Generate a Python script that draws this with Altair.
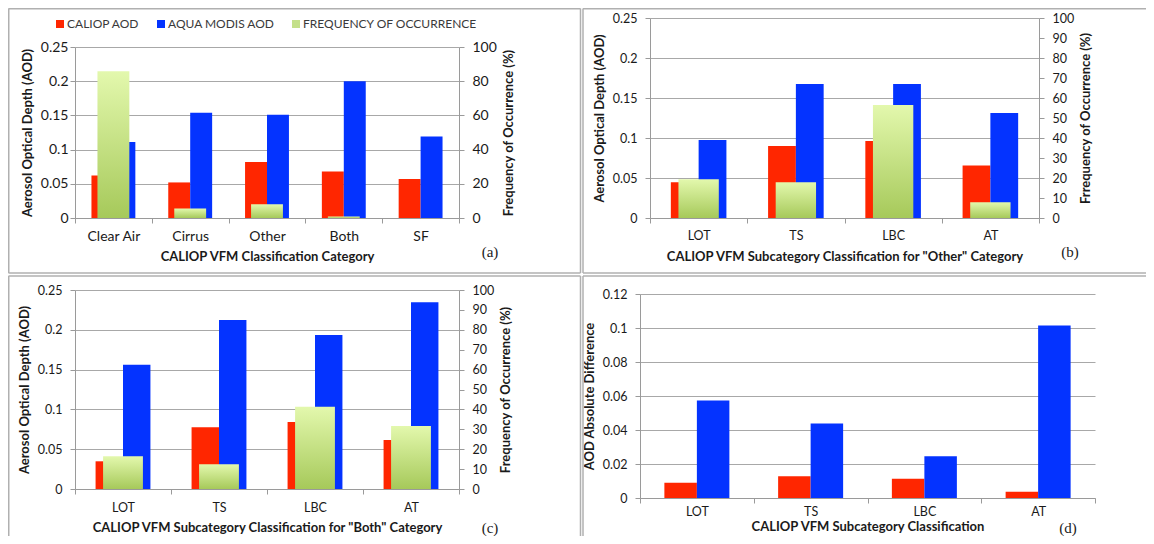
import altair as alt
import pandas as pd

W, H = 1138, 528

series = ["CALIOP AOD", "AQUA MODIS AOD"]
freq_name = "FREQUENCY OF OCCURRENCE"
legend_names = series + [freq_name]
colors = ["#ff2600", "#0433ff", "#c4e08a"]

# Panel (a)
cats_a = ["Clear Air", "Cirrus", "Other", "Both", "SF"]
caliop_a = [0.062, 0.052, 0.082, 0.068, 0.057]
modis_a = [0.111, 0.154, 0.151, 0.200, 0.119]
freq_a = [85.8, 5.5, 8.0, 0.9, 0.0]

# Sub-categories
cats_sub = ["LOT", "TS", "LBC", "AT"]
# Panel (b) "Other"
caliop_b = [0.0447, 0.0899, 0.0962, 0.0656]
modis_b = [0.0974, 0.1676, 0.1676, 0.1313]
freq_b = [19.4, 17.9, 56.5, 7.9]
# Panel (c) "Both"
caliop_c = [0.0348, 0.0776, 0.0843, 0.0617]
modis_c = [0.1560, 0.2122, 0.1934, 0.2345]
freq_c = [16.4, 12.4, 41.3, 31.7]
# Panel (d) absolute difference
caliop_d = [0.0090, 0.0128, 0.0113, 0.0037]
modis_d = [0.0574, 0.0438, 0.0245, 0.1015]

aod_ticks = [0, 0.05, 0.1, 0.15, 0.2, 0.25]
diff_ticks = [0, 0.02, 0.04, 0.06, 0.08, 0.1, 0.12]
freq_ticks_a = [0, 20, 40, 60, 80, 100]
freq_ticks_bc = [0, 10, 20, 30, 40, 50, 60, 70, 80, 90, 100]

FONT = "Lato"
GRID = "#a8a8a8"
AXIS = "#9a9a9a"
TXT = "#1a1a1a"
FRAME = "#b0b0b0"
TFS = 13

color_scale = alt.Scale(domain=legend_names, range=colors)
green_grad = {
    "gradient": "linear",
    "x1": 0, "x2": 0, "y1": 0, "y2": 1,
    "stops": [{"offset": 0, "color": "#e3f8ad"}, {"offset": 1, "color": "#a6c95a"}],
}


def long_df(cats, caliop, modis):
    rows = []
    for c, a, b in zip(cats, caliop, modis):
        rows.append({"cat": c, "series": series[0], "value": a})
        rows.append({"cat": c, "series": series[1], "value": b})
    return pd.DataFrame(rows)


def panel(cats, caliop, modis, freq, xr, yr, ydom, yticks, ytitle, xtitle,
          left_off, bottom_off, right_off=None, rticks=None, rtitle=None,
          lsize=12.5, lpad=8, xlpad=4, xtpad=4, ytpad=6, rtpad=6, legend=None):
    xenc = alt.X(
        "cat:N", sort=cats,
        scale=alt.Scale(range=xr, paddingInner=0, paddingOuter=0),
        axis=alt.Axis(orient="bottom", offset=bottom_off, title=xtitle,
                      tickBand="extent", grid=False, labelAngle=0,
                      labelFontSize=lsize, labelFont=FONT, labelColor=TXT,
                      labelPadding=xlpad, titlePadding=xtpad,
                      titleFont=FONT, titleFontSize=TFS, titleFontWeight="bold",
                      titleColor=TXT, domainColor=AXIS, tickColor=AXIS, tickSize=5),
    )
    bars = alt.Chart(long_df(cats, caliop, modis)).mark_bar().encode(
        x=xenc,
        xOffset=alt.XOffset("series:N", sort=series,
                            scale=alt.Scale(paddingInner=0, paddingOuter=0.75)),
        y=alt.Y("value:Q",
                scale=alt.Scale(domain=ydom, range=yr, nice=False, zero=True),
                axis=alt.Axis(orient="left", offset=left_off, values=yticks,
                              labelExpr="'' + datum.value",
                              grid=True, gridColor=GRID, gridWidth=1,
                              title=ytitle, titlePadding=ytpad, titleFont=FONT,
                              titleFontSize=TFS, titleFontWeight="bold", titleColor=TXT,
                              labelFontSize=lsize, labelFont=FONT, labelColor=TXT,
                              labelPadding=lpad, domainColor=AXIS, tickColor=AXIS,
                              tickSize=5)),
        color=alt.Color("series:N", scale=color_scale, legend=legend),
    )
    layers = [bars]
    if freq is not None:
        fdf = pd.DataFrame({"cat": cats, "freq": freq})
        green = alt.Chart(fdf).mark_bar(color=green_grad, width={"band": 0.415}).encode(
            x=xenc,
            y=alt.Y("freq:Q",
                    scale=alt.Scale(domain=[0, 100], range=yr, nice=False),
                    axis=alt.Axis(orient="right", offset=right_off, values=rticks,
                                  labelExpr="'' + datum.value", grid=False, title=rtitle,
                                  titleAngle=270, titleBaseline="top",
                                  titlePadding=rtpad, titleFont=FONT, titleFontSize=TFS,
                                  titleFontWeight="bold", titleColor=TXT,
                                  labelFontSize=lsize, labelFont=FONT, labelColor=TXT,
                                  labelPadding=8, domainColor=AXIS, tickColor=AXIS,
                                  tickSize=5)),
        )
        layers.append(green)
        return alt.layer(*layers).resolve_scale(y="independent")
    return alt.layer(*layers)


legend_a = alt.Legend(orient="none", legendX=46, legendY=10, direction="horizontal",
                      title=None, symbolType="square", symbolSize=64,
                      symbolStrokeWidth=0, labelFont=FONT, labelFontSize=12,
                      labelColor="#3a3a3a", labelOffset=1, columnPadding=15, padding=0,
                      labelLimit=0)

pA = panel(cats_a, caliop_a, modis_a, freq_a, [67, 451], [210, 39], [0, 0.25], aod_ticks,
           "Aerosol Optical Depth (AOD)", "CALIOP VFM Classification Category",
           left_off=-67, bottom_off=-318, right_off=451 - W, rticks=freq_ticks_a,
           rtitle="Frequency of Occurrence (%)", lsize=14, lpad=2, xlpad=6, xtpad=7.5,
           legend=legend_a)
pB = panel(cats_sub, caliop_b, modis_b, freq_b, [642, 1031], [210, 10], [0, 0.25], aod_ticks,
           "Aerosol Optical Depth (AOD)",
           'CALIOP VFM Subcategory Classification for "Other" Category',
           left_off=-642, bottom_off=-318, right_off=1031 - W, rticks=freq_ticks_bc,
           rtitle="Frrequency of Occurrence (%)", xlpad=6, xtpad=9)
pC = panel(cats_sub, caliop_c, modis_c, freq_c, [67, 451], [481, 282], [0, 0.25], aod_ticks,
           "Aerosol Optical Depth (AOD)",
           'CALIOP VFM Subcategory Classification for "Both" Category',
           left_off=-67, bottom_off=481 - H, right_off=451 - W, rticks=freq_ticks_bc,
           rtitle="Frequency of Occurrence (%)", xlpad=7.5, xtpad=7)
pD = panel(cats_sub, caliop_d, modis_d, None, [632, 1087], [490, 286], [0, 0.12], diff_ticks,
           "AOD Absolute Difference", "CALIOP VFM Subcategory Classification",
           left_off=-632, bottom_off=490 - H, xlpad=2, xtpad=3)

one = pd.DataFrame({"k": [0]})


def hline(x1, x2, y):
    return alt.Chart(one).mark_rule(color=FRAME, strokeWidth=1.5).encode(
        x=alt.value(x1), x2=alt.value(x2), y=alt.value(y))


def vline(x, y1, y2):
    return alt.Chart(one).mark_rule(color=FRAME, strokeWidth=1.5).encode(
        x=alt.value(x), y=alt.value(y1), y2=alt.value(y2))


frames = [
    hline(0.5, 572.5, 0.75), vline(0.75, 0.5, 265), vline(572.5, 0.5, 265), hline(0.5, 572.5, 265),
    hline(575, W, 0.75), vline(575, 0.5, 265), hline(575, W, 265),
    hline(0.5, 572.5, 268), vline(0.75, 268, H), vline(572.5, 268, H),
    hline(575, W, 268), vline(575, 268, H),
]

panel_tags = ["(a)", "(b)", "(c)", "(d)"]
tag_x = [482, 1062, 482, 1060]
tag_y = [244, 244, 520, 520]
tags = [
    alt.Chart(pd.DataFrame({"t": [t]})).mark_text(
        font="Liberation Serif", fontSize=15, color=TXT, align="center", baseline="middle"
    ).encode(text="t:N", x=alt.value(x), y=alt.value(y))
    for t, x, y in zip(panel_tags, tag_x, tag_y)
]

chart = alt.layer(pA, pB, pC, pD, *frames, *tags).resolve_scale(
    x="independent", y="independent", xOffset="independent"
).properties(
    width=W, height=H, padding=0, autosize=alt.AutoSizeParams(type="none"),
    background="white",
).configure_view(stroke=None)

chart.save("out.html", embed_options={"renderer": "svg", "actions": False})
